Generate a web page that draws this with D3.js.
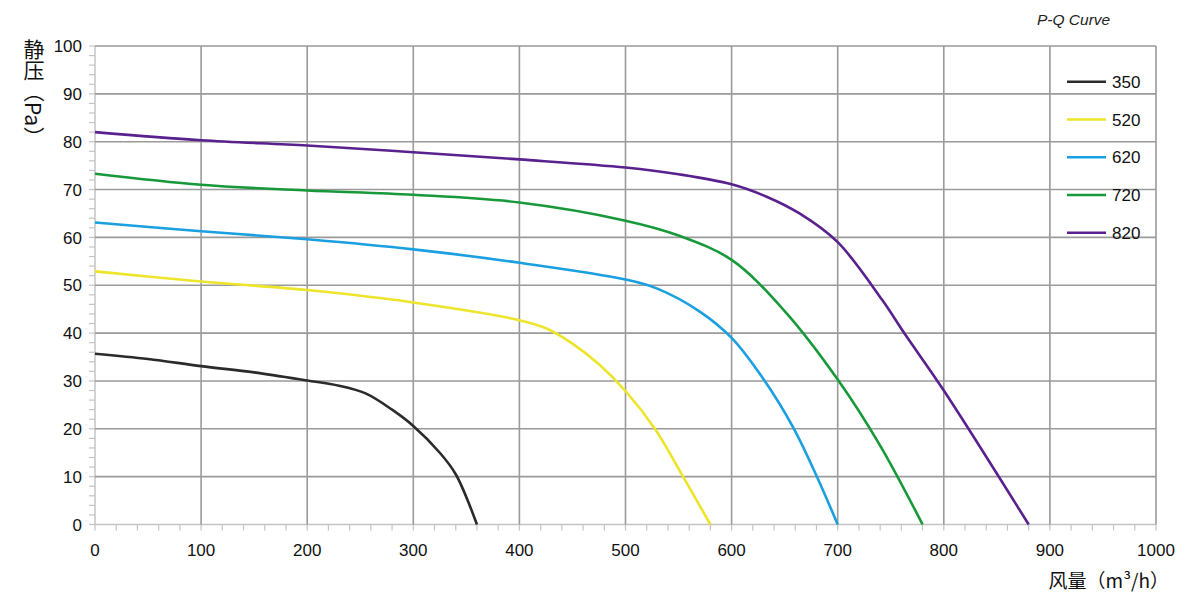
<!DOCTYPE html>
<html><head><meta charset="utf-8">
<script src="https://cdn.jsdelivr.net/npm/d3@7"></script>
<style>body{margin:0;background:#fff}svg{display:block;font-family:"Liberation Sans",Arial,sans-serif}</style>
</head><body>
<svg id="c" width="1200" height="602"></svg>
<script>
const seriesNames = ["350","520","620","720","820"];
const seriesColors = ["#2b2b2b","#ede52a","#1a9fe0","#17993a","#59218e"];
const q350 = [0,50,100,150,200,230,255,280,300,325,340,360];
const p350 = [35.7,34.6,33.1,31.8,30.1,29.0,27.4,24.0,20.6,15.0,10.5,0];
const q520 = [0,100,200,300,400,425,450,475,500,528,554,580];
const p520 = [52.9,50.8,49.0,46.4,42.7,41.0,37.8,33.5,27.9,19.9,10.1,0];
const q620 = [0,100,200,300,400,500,530,570,600,630,658,680,700];
const p620 = [63.1,61.3,59.6,57.5,54.7,51.2,49.3,44.5,39.0,30.4,20.3,10.2,0];
const q720 = [0,100,200,300,400,500,550,600,650,700,740,780];
const p720 = [73.3,71.0,69.8,68.9,67.3,63.5,60.4,55.3,44.6,30.3,16.5,0];
const q820 = [0,100,200,300,400,500,550,600,633,664,700,742,763,800,880];
const p820 = [82.0,80.3,79.2,77.8,76.3,74.6,73.2,71.1,68.5,65.0,59.0,46.9,39.9,28.0,0];
const xTicks = [0,100,200,300,400,500,600,700,800,900,1000];
const yTicks = [0,10,20,30,40,50,60,70,80,90,100];
const title = "P-Q Curve";
const xLabel = "风量（m³/h）";
const yLabel = "静压（Pa）";

const qs=[q350,q520,q620,q720,q820], ps=[p350,p520,p620,p720,p820];
const svg=d3.select("#c");
const x=d3.scaleLinear().domain([0,1000]).range([95,1156]);
const y=d3.scaleLinear().domain([0,100]).range([524.5,46]);

// minor ticks
const xMinor=d3.range(0,1001,20), yMinor=d3.range(0,101,2);
svg.append("g").selectAll("line").data(xMinor).join("line")
  .attr("x1",d=>x(d)).attr("x2",d=>x(d)).attr("y1",y(0)).attr("y2",y(0)+6)
  .attr("stroke","#c4c4c4").attr("stroke-width",1.2);
svg.append("g").selectAll("line").data(yMinor).join("line")
  .attr("y1",d=>y(d)).attr("y2",d=>y(d)).attr("x1",x(0)-6).attr("x2",x(0))
  .attr("stroke","#c4c4c4").attr("stroke-width",1.2);
// axis lines
svg.append("line").attr("x1",x(0)).attr("x2",x(1000)).attr("y1",y(0)).attr("y2",y(0)).attr("stroke","#c4c4c4").attr("stroke-width",1.5);
svg.append("line").attr("x1",x(0)).attr("x2",x(0)).attr("y1",y(0)).attr("y2",y(100)).attr("stroke","#c4c4c4").attr("stroke-width",1.5);
// grid
svg.append("g").selectAll("line").data(xTicks.filter(d=>d>0)).join("line")
  .attr("x1",d=>x(d)).attr("x2",d=>x(d)).attr("y1",y(0)).attr("y2",y(100))
  .attr("stroke","#9a9a9a").attr("stroke-width",1.6);
svg.append("g").selectAll("line").data(yTicks.filter(d=>d>0)).join("line")
  .attr("y1",d=>y(d)).attr("y2",d=>y(d)).attr("x1",x(0)).attr("x2",x(1000))
  .attr("stroke","#9a9a9a").attr("stroke-width",1.6);
// tick labels
svg.append("g").selectAll("text").data(xTicks).join("text")
  .attr("x",d=>x(d)).attr("y",556).attr("text-anchor","middle")
  .attr("font-size",17).attr("fill","#111").text(d=>d);
svg.append("g").selectAll("text").data(yTicks).join("text")
  .attr("x",82).attr("y",d=>y(d)).attr("dy","0.36em").attr("text-anchor","end")
  .attr("font-size",17).attr("fill","#111").text(d=>d);
// curves
const line=d3.line().x(d=>x(d[0])).y(d=>y(d[1])).curve(d3.curveCatmullRom.alpha(0.5));
qs.forEach((q,i)=>{
  svg.append("path").datum(q.map((v,j)=>[v,ps[i][j]])).attr("d",line)
    .attr("fill","none").attr("stroke",seriesColors[i]).attr("stroke-width",2.6);
});
// legend
const lg=svg.append("g");
seriesNames.forEach((n,i)=>{
  const ly=81.7+i*37.75;
  lg.append("line").attr("x1",1067).attr("x2",1106).attr("y1",ly).attr("y2",ly)
    .attr("stroke",seriesColors[i]).attr("stroke-width",2.6);
  lg.append("text").attr("x",1112).attr("y",ly).attr("dy","0.36em")
    .attr("font-size",17).attr("fill","#111").text(n);
});
// title
svg.append("text").attr("x",1037).attr("y",25).attr("font-size",15.5).attr("font-style","italic").attr("fill","#222").text(title);
// x label
svg.append("text").attr("x",1169).attr("y",588).attr("text-anchor","end")
  .attr("font-size",19).attr("fill","#111").attr("font-family","'Noto Sans CJK SC',sans-serif").text(xLabel);
// y label (vertical writing)
svg.append("text").attr("x",34).attr("y",39)
  .style("writing-mode","vertical-rl")
  .attr("font-size",21).attr("fill","#111").attr("font-family","'Noto Sans CJK SC',sans-serif").text(yLabel);
</script>
</body></html>
